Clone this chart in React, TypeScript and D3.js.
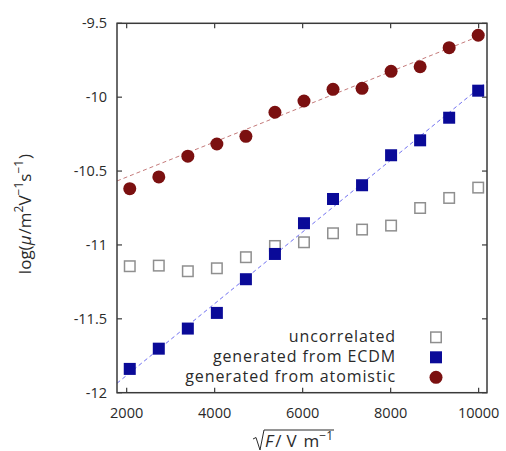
import React, { useRef, useLayoutEffect, useState } from "react";
import * as d3 from "d3";

const xValues = [2070, 2730, 3390, 4050, 4710, 5370, 6030, 6690, 7350, 8010, 8670, 9330, 9990];
const uncorrelated = [-11.144, -11.140, -11.178, -11.158, -11.083, -11.007, -10.982, -10.921, -10.896, -10.869, -10.750, -10.682, -10.612];
const ecdm = [-11.839, -11.702, -11.566, -11.460, -11.232, -11.061, -10.853, -10.689, -10.596, -10.393, -10.292, -10.139, -9.956];
const atomistic = [-10.619, -10.540, -10.399, -10.317, -10.265, -10.102, -10.026, -9.947, -9.940, -9.825, -9.794, -9.665, -9.581];
const fitX = [1780, 10190];
const fitEcdm = [-11.936, -9.895];
const fitAtomistic = [-10.567, -9.566];
const xTicks = [2000, 4000, 6000, 8000, 10000];
const yTicks = [-12, -11.5, -11, -10.5, -10, -9.5];
const legendLabels = ["uncorrelated", "generated from ECDM", "generated from atomistic"];

const W = 506, H = 451;
const L = 117, R = 487, T = 23.3, B = 392.7;
const FONT = "'Open Sans', 'Noto Sans', sans-serif";
const FS_TICK = 14.5;
const FS_LEG = 16;

export default function App() {
  const x = d3.scaleLinear().domain([1780, 10190]).range([L, R]);
  const y = d3.scaleLinear().domain([-12, -9.5]).range([B, T]);
  const lineGen = d3.line<[number, number]>().x(d => x(d[0])).y(d => y(d[1]));
  const xlabRef = useRef<SVGTextElement>(null);
  const ylabRef = useRef<SVGTextElement>(null);
  const [xlabW, setXlabW] = useState(90);
  const [ylabW, setYlabW] = useState(160);
  useLayoutEffect(() => {
    if (xlabRef.current) setXlabW(xlabRef.current.getBBox().width);
    if (ylabRef.current) setYlabW(ylabRef.current.getBBox().width);
  }, []);

  const axisColor = "#3a3a3a";
  const textColor = "#2a2a2a";
  const tickLen = 5;
  const sq = 12;
  const blue = "#0a0a98";
  const red = "#7b1010";

  const legendTextX = 396;
  const legendSymX = 436;
  const legendY = [337.3, 357.3, 377.3];

  const xlabStart = 265;
  const xlabBase = 447;
  const ts: React.CSSProperties = { fontFamily: FONT };

  return (
    <svg width={W} height={H} style={{ position: "absolute", left: 0, top: 0, background: "#fff", fontFamily: FONT }}>
      <rect x={0} y={0} width={W} height={H} fill="#fff" />
      <defs>
        <clipPath id="plotclip">
          <rect x={L} y={T} width={R - L} height={B - T} />
        </clipPath>
      </defs>
      <g clipPath="url(#plotclip)">
        <path d={lineGen(fitX.map((v, i) => [v, fitAtomistic[i]]) as [number, number][]) || ""} stroke="#c47a7a" strokeWidth={1} strokeDasharray="4,3" fill="none" />
        <path d={lineGen(fitX.map((v, i) => [v, fitEcdm[i]]) as [number, number][]) || ""} stroke="#6f6ff0" strokeWidth={1} strokeDasharray="4,3" fill="none" />
      </g>
      {xTicks.map(t => (
        <g key={"xt" + t}>
          <line x1={x(t)} x2={x(t)} y1={B} y2={B - tickLen} stroke={axisColor} strokeWidth={1.2} />
          <line x1={x(t)} x2={x(t)} y1={T} y2={T + tickLen} stroke={axisColor} strokeWidth={1.2} />
          <text style={ts} x={x(t)} y={B + 25} textAnchor="middle" fontSize={FS_TICK} fill={textColor}>{t}</text>
        </g>
      ))}
      {yTicks.map(t => (
        <g key={"yt" + t}>
          <line x1={L} x2={L + tickLen} y1={y(t)} y2={y(t)} stroke={axisColor} strokeWidth={1.2} />
          <line x1={R} x2={R - tickLen} y1={y(t)} y2={y(t)} stroke={axisColor} strokeWidth={1.2} />
          <text style={ts} x={L - 10} y={y(t) + 5} textAnchor="end" fontSize={FS_TICK} fill={textColor}>{t}</text>
        </g>
      ))}
      <rect x={L} y={T} width={R - L} height={B - T} fill="none" stroke={axisColor} strokeWidth={1.5} />
      {xValues.map((v, i) => (
        <rect key={"u" + i} x={x(v) - sq / 2 + 0.75} y={y(uncorrelated[i]) - sq / 2 + 0.75} width={sq - 1.5} height={sq - 1.5} fill="#fff" stroke="#8f8f8f" strokeWidth={1.5} />
      ))}
      {xValues.map((v, i) => (
        <rect key={"e" + i} x={x(v) - sq / 2} y={y(ecdm[i]) - sq / 2} width={sq} height={sq} fill={blue} />
      ))}
      {xValues.map((v, i) => (
        <circle key={"a" + i} cx={x(v)} cy={y(atomistic[i])} r={6.5} fill={red} />
      ))}
      {legendLabels.map((l, i) => (
        <text style={{ ...ts, letterSpacing: "0.9px" }} key={"l" + i} x={legendTextX} y={legendY[i] + 5} textAnchor="end" fontSize={FS_LEG} fill={textColor}>{l}</text>
      ))}
      <rect x={legendSymX - sq / 2 + 0.75} y={legendY[0] - sq / 2 + 0.75} width={sq - 1.5} height={sq - 1.5} fill="#fff" stroke="#8f8f8f" strokeWidth={1.5} />
      <rect x={legendSymX - sq / 2} y={legendY[1] - sq / 2} width={sq} height={sq} fill={blue} />
      <circle cx={legendSymX} cy={legendY[2]} r={6.5} fill={red} />
      <text style={ts} ref={ylabRef} transform={`translate(31,${214 + ylabW / 2}) rotate(-90)`} x={0} y={0} fontSize={17} fill={textColor}>
        <tspan>log(</tspan>
        <tspan fontStyle="italic">μ</tspan>
        <tspan dx={1}>/m</tspan>
        <tspan fontSize={12} dy={-8}>2</tspan>
        <tspan dy={8}>V</tspan>
        <tspan fontSize={12} dy={-8}>−1</tspan>
        <tspan dy={8}>s</tspan>
        <tspan fontSize={12} dy={-8}>−1</tspan>
        <tspan dy={8} dx={1}>)</tspan>
      </text>
      <path d={`M ${xlabStart - 12} ${xlabBase - 8} L ${xlabStart - 9} ${xlabBase - 9.5} L ${xlabStart - 5} ${xlabBase + 3} L ${xlabStart - 1} ${xlabBase - 17} L ${xlabStart + xlabW + 1} ${xlabBase - 17}`} stroke={textColor} strokeWidth={1} fill="none" />
      <text style={ts} ref={xlabRef} x={xlabStart} y={xlabBase} fontSize={17} fill={textColor}>
        <tspan fontStyle="italic">F</tspan>
        <tspan dx={2}>/</tspan>
        <tspan dx={5}>V</tspan>
        <tspan dx={7}>m</tspan>
        <tspan fontSize={12} dy={-7}>−1</tspan>
      </text>
    </svg>
  );
}
